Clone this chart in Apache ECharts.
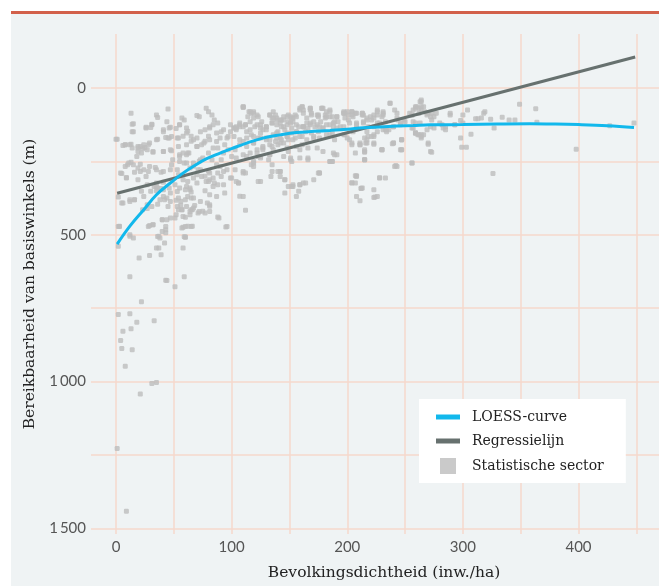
<!DOCTYPE html>
<html>
<head>
<meta charset="utf-8">
<script src="https://cdn.jsdelivr.net/npm/echarts@6/dist/echarts.min.js"></script>
<style>html,body{margin:0;padding:0;background:#fff;}#c{width:659px;height:586px;}</style>
</head>
<body>
<div id="c"></div>
<script>
const densityTicks = [0, 100, 200, 300, 400];
const reachTicks = [0, 500, 1000, 1500];
const reachTickLabels = ['0', '500', '1\u2009000', '1\u2009500'];
const densityGrid = [0, 50, 100, 150, 200, 250, 300, 350, 400, 450];
const reachGrid = [0, 250, 500, 750, 1000, 1250, 1500];
const legendNames = ['LOESS-curve', 'Regressielijn', 'Statistische sector'];

const regression = [[1, 359], [449, -105]];

const loess = [[1,532],[12,471],[24,415],[35,364],[47,324],[57,293],[67,267],[78,242],[90,222],[100,207],[113,188],[127,171],[142,160],[156,152],[171,148],[185,145],[200,141],[214,136],[228,133],[243,130],[257,128],[272,126],[300,125],[330,123],[358,122],[380,123],[400,125],[425,129],[448,135]];

const sectors = [
[2,772],[12,769],[18,798],[33,793],[6,829],[13,820],[4,860],[5,888],[14,892],[8,948],[31,1007],[35,1003],[21,1043],[1,1228],[9,1442],[22,728],
[2,539],[3,471],[12,505],[20,579],[29,571],[39,568],[37,545],[37,505],[40,449],[29,469],[32,466],[12,643],[43,655],[59,643],[51,677],[58,545],[59,507],[58,475],[62,471],[66,471],[43,483],[47,443],[88,440],[95,474],[112,417],[107,369],[75,420],[81,403],[66,415],[68,401],[27,398],
[2,372],[5,392],[12,387],[16,381],[3,472],[36,506],[43,493],[43,472],[60,509],[44,656],[52,432],[54,415],[57,415],[56,400],[61,404],[65,415],[67,409],[52,383],[56,386],[45,404],[36,396],[31,404],[27,411],[23,415],[22,352],[30,352],[35,350],[36,341],[41,370],[42,381],[44,375],[55,341],[61,336],[64,347],[65,355],[65,375],[62,370],[77,350],[79,392],[81,364],[72,421],[77,426],[64,432],[60,441],
[0,175],[13,86],[14,124],[15,149],[6,196],[8,194],[13,192],[14,205],[19,205],[21,200],[23,207],[25,203],[28,194],[18,234],[22,222],
[10,262],[13,253],[5,292],[9,305],[16,287],[21,260],[21,285],[19,313],[28,285],[26,302],[34,271],[39,287],[35,324],[41,321],
[31,124],[30,135],[26,137],[35,92],[36,101],[45,72],[44,115],[46,137],[41,143],[43,169],[36,175],[46,171],[48,166],[41,217],[48,214],[32,219],
[49,245],[55,251],[61,228],[62,222],[55,228],[59,256],[48,262],
[52,138],[55,126],[59,109],[57,103],[54,171],[58,165],[62,148],[61,137],[65,165],[65,182],[70,171],[70,200],[74,194],[77,182],[80,165],[81,137],[77,143],[78,69],[80,81],[72,98],[70,94],[83,92],[85,109],[84,126],[88,120],[91,149],[90,171],[87,183],[84,205],[88,205],[80,222],[75,239],[72,250],[83,245],[87,262],[88,290],[85,324],[81,313],[77,301],[80,284],[71,279],[67,267],
[54,296],[58,313],[62,319],[67,307],[70,296],[74,302],[80,319],[84,307],[88,330],[51,330],[46,341],[39,343],[33,336],
[110,67],[115,81],[117,86],[119,103],[116,115],[112,126],[107,132],[104,143],[102,137],[99,149],[96,171],[94,194],[97,211],[93,222],[91,245],[100,234],[104,239],[110,228],[116,222],[122,211],[125,234],[119,251],[117,262],[110,285],[103,279],[106,324],[99,307],[93,285],[91,302],[125,239],[127,205],[130,171],[127,143],[125,137],[122,126],[130,132],[135,103],[138,92],[136,81],[142,120],[145,109],[148,126],[151,98],[153,115],[152,137],[158,132],[159,69],[162,75],[168,69],[169,86],[174,92],[178,69],[182,81],[185,75],[177,115],[172,132],[166,137],[164,149],[161,166],[155,171],[149,177],[145,188],[140,194],[136,211],[133,228],[132,245],[135,262],[142,285],[142,302],[151,239],[152,251],[159,239],[166,239],[152,336],[159,330],[164,324],[175,290],[185,251],[179,217],[174,205],[185,160],[188,132],[179,137],[171,171],[166,205],[159,211],[148,205],[161,194],[136,160],[140,149],[133,194],[123,171],[117,160],[113,171],[110,183],[107,194],[103,211],[119,188],
[133,92],[139,109],[143,132],[146,143],[149,115],[155,92],[156,149],[165,103],[165,120],[171,115],[175,149],[181,103],[182,126],[187,98],[189,115],[169,154],[162,132],[148,154],[142,171],[138,183],
[185,98],[188,120],[191,98],[192,115],[197,86],[198,103],[201,109],[204,81],[205,98],[208,120],[213,86],[214,115],[217,103],[221,109],[223,92],[226,81],[230,98],[231,86],[233,115],[237,52],[241,75],[243,86],[244,109],[254,86],[259,64],[262,69],[264,47],[267,81],[270,86],[273,109],[280,120],[285,132],[289,86],[293,126],[257,115],[256,137],[259,154],[262,160],[264,171],[269,143],[272,132],[187,154],[189,177],[188,222],[191,228],[187,251],[202,177],[204,194],[211,188],[215,171],[217,188],[221,166],[215,217],[215,245],[230,211],[240,188],[247,177],[246,211],[241,268],[256,256],[270,188],[272,217],[207,299],[204,324],[212,343],[228,307],[224,372],[211,384],[200,171],[194,132],[197,160],[205,149],[226,120],[236,143],[218,132],[208,137],[246,120],[250,115],[240,132],[233,143],
[298,171],[299,202],[303,202],[307,158],[304,75],[300,92],[300,120],[311,105],[313,105],[316,103],[318,86],[319,81],[324,107],[327,137],[326,292],[334,100],[340,109],[345,109],[349,56],[363,71],[364,117],[398,209],[427,129],[448,120],
[260,64],[263,47],[264,75],[262,86],[257,75],[256,92],[266,64],[269,92],[272,98],[273,86],[275,98],[277,86],[257,137],[259,154],[261,160],[264,166],[266,160],[270,192],[273,219],[275,137],[282,126],[285,143],[289,92],[293,126],[298,111],[283,137],[263,120],[259,120],
[247,211],[247,177],[242,264],[239,190],[230,211],[228,306],[223,373],[212,342],[204,323],[208,299],[215,245],[215,219],[223,192],[216,188],[211,194],
[226,92],[231,81],[223,103],[220,98],[214,92],[213,86],[207,86],[204,81],[201,92],[198,86],[197,81],
[218,166],[223,160],[217,149],[226,149],[231,143],[234,149],
[110,64],[119,81],[122,92],[114,98],[107,126],[104,137],[110,132],[113,149],[119,166],[125,154],[130,143],[130,177],[135,120],[139,103],[143,109],[148,98],[153,103],[159,75],[161,64],[168,75],[175,92],[179,69],[182,98],[176,132],[168,126],[162,132],[156,149],[152,154],[148,166],[143,177],[139,154],[135,200],[127,211],[122,222],[119,256],[113,234],[112,290],[106,324],[123,319],[134,302],[140,285],[146,313],[149,336],[153,330],[162,324],[158,352],[176,290],[185,251],
[15,122],[14,149],[26,134],[31,126],[41,149],[47,134],[55,126],[61,154],[53,171],[45,171],[35,177],[29,188],[24,194],[19,200],[12,194],[8,194],[1,175],[19,217],[27,211],[32,217],[41,217],[47,211],[55,234],[63,222],[70,200],[76,188],[81,177],[87,154],[93,143],[97,166],[102,137],[81,132],[73,149],[67,177],[61,194],[54,200],[11,256],[15,262],[8,268],[4,290],[9,307],[19,273],[24,279],[29,268],[35,279],[41,285],[47,279],[53,279],[61,256],[67,256],[73,245],[58,222],[64,273],[73,279],[81,290],[90,268],[96,279],[100,307],[93,330],[84,336],[78,319],[70,324],[64,341],[60,347],[53,353],[47,358],[41,347],[35,336],[27,330],[12,381],[16,381],[6,392],[24,370],[38,381],[47,387],[54,375],[60,381],[67,375],[73,387],[81,398],[87,370],[94,358],[53,404],[57,415],[64,421],[71,426],[81,421],[89,443],[58,438],[51,443],[44,449],[40,449],[32,466],[28,472],[40,489],[57,477],[60,472],[65,472],[96,472],[2,472],[12,500],[15,511],[38,511],[42,528],[60,508],[35,545],
[110,64],[116,81],[119,86],[123,98],[126,115],[133,92],[136,103],[142,109],[145,98],[149,92],[152,103],[156,98],[161,64],[162,86],[168,69],[169,92],[175,98],[178,69],[181,92],[185,81],[191,98],[197,86],[200,81],[204,92],[208,86],[213,92],[217,109],[226,75],[231,92],[237,52],[243,103],[249,109],[256,92],[259,69],[264,41],[264,64],[269,86],
[99,126],[104,132],[107,120],[112,126],[116,143],[120,132],[125,126],[130,132],[135,120],[139,126],[145,132],[151,120],[156,126],[162,132],[168,120],[174,126],[179,137],[185,126],[191,137],[197,132],[202,120],[208,126],[214,120],[223,132],[228,120],[234,143],[240,132],[246,126],[259,154],[264,160],
[102,166],[107,177],[113,200],[119,188],[125,171],[127,200],[133,177],[139,171],[142,188],[148,166],[153,177],[159,166],[165,177],[171,166],[176,171],[182,160],[156,200],[149,217],[151,245],[145,234],[133,228],[123,234],[119,268],[110,290],[104,319],[125,319],[135,285],[142,285],[146,313],[153,336],[159,330],[166,245],[176,290],[187,251],[189,228],[198,160],[204,188],[207,222],[211,194],[215,211],[217,177],[223,166],[223,188],[215,245],[230,211],[240,188],[247,177],[247,211],[256,256],[243,268],[208,302],[207,324],[213,341],[223,347],[226,370],[233,307],[208,370],[110,370],[146,358],[156,370],[171,313]
];

const chart = echarts.init(document.getElementById('c'), null, {renderer: 'canvas'});
const serif = 'DejaVu Serif';
const sans = 'Lato';
const lineIcon = 'path://M0,0H24V5H0Z';
const boxIcon = 'path://M0,0H16V16H0Z';

chart.setOption({
  animation: false,
  backgroundColor: '#ffffff',
  graphic: [
    {type: 'rect', left: 11, top: 14, z: -10, silent: true, shape: {width: 648, height: 572}, style: {fill: '#eff3f4'}},
    {type: 'rect', left: 11, top: 11, z: -10, silent: true, shape: {width: 648, height: 3}, style: {fill: '#d2604a'}}
  ],
  grid: {left: 91, top: 34, right: 0, bottom: 51},
  xAxis: {
    type: 'value', min: -21.62, max: 469.6,
    axisLine: {show: false}, axisTick: {show: false}, splitLine: {show: false},
    axisLabel: {customValues: densityTicks, color: '#555', fontSize: 15, fontFamily: sans, margin: 6},
    name: 'Bevolkingsdichtheid (inw./ha)', nameLocation: 'middle', nameGap: 31,
    nameTextStyle: {fontFamily: serif, fontSize: 15.5, color: '#222', padding: [0, 0, 0, 18]}
  },
  yAxis: {
    type: 'value', inverse: true, min: -183.5, max: 1519.4,
    axisLine: {show: false}, axisTick: {show: false}, splitLine: {show: false},
    axisLabel: {customValues: reachTicks, color: '#555', fontSize: 15, fontFamily: sans, margin: 5,
      formatter: v => reachTickLabels[reachTicks.indexOf(v)]},
    name: 'Bereikbaarheid van basiswinkels (m)', nameLocation: 'middle', nameGap: 52, nameRotate: 90,
    nameTextStyle: {fontFamily: serif, fontSize: 15.5, color: '#222'}
  },
  legend: {
    orient: 'vertical', left: 419, top: 399, padding: [11, 22, 9, 17],
    backgroundColor: '#ffffff', itemWidth: 24, itemHeight: 16, itemGap: 10,
    selectedMode: false,
    textStyle: {fontFamily: serif, fontSize: 14, color: '#222', padding: [0, 0, 0, 7]},
    data: [
      {name: legendNames[0], icon: lineIcon},
      {name: legendNames[1], icon: lineIcon},
      {name: legendNames[2], icon: boxIcon}
    ]
  },
  series: [
    {
      type: 'line', name: 'raster', data: [], silent: true, z: 1,
      markLine: {
        silent: true, z: 1, symbol: ['none', 'none'], label: {show: false},
        lineStyle: {color: '#f6d9cc', width: 1.5, type: 'solid'},
        emphasis: {disabled: true},
        data: densityGrid.map(v => ({xAxis: v})).concat(reachGrid.map(v => ({yAxis: v})))
      }
    },
    {
      type: 'scatter', name: legendNames[2], data: sectors, symbol: 'roundRect', symbolSize: 5,
      itemStyle: {color: '#bdbdbd'}, z: 3, silent: true
    },
    {
      type: 'line', name: legendNames[1], data: regression, symbol: 'none', z: 4, silent: true,
      lineStyle: {color: '#67716f', width: 3}, itemStyle: {color: '#67716f'}
    },
    {
      type: 'line', name: legendNames[0], data: loess, symbol: 'none', smooth: 0.4, z: 5, silent: true,
      lineStyle: {color: '#12b8ec', width: 3}, itemStyle: {color: '#12b8ec'}
    }
  ]
});
</script>
</body>
</html>
